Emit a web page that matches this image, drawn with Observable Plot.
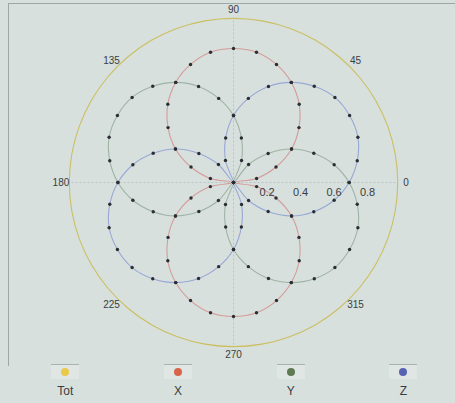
<!DOCTYPE html>
<html>
<head>
<meta charset="utf-8">
<script src="https://cdn.jsdelivr.net/npm/d3@7"></script>
<script src="https://cdn.jsdelivr.net/npm/@observablehq/plot@0.6"></script>
<style>
  html, body { margin: 0; padding: 0; background: #d7e0dd; }
  body { width: 455px; height: 403px; overflow: hidden; font-family: "Liberation Sans", Arial, sans-serif; }
  #chart svg { display: block; }
  #legend { display: grid; grid-template-columns: repeat(4, 112.7px); padding-left: 9px; height: 37px; }
  .item { position: relative; text-align: center; }
  .sw { position: absolute; left: 50%; top: -2px; width: 28px; height: 14px; margin-left: -14px;
        border-top: 1px solid #aab2b2; background: #dfe6e4; }
  .dot { position: absolute; left: 50%; top: 2px; width: 8px; height: 8px; margin-left: -4px; border-radius: 50%; }
  .lab { position: absolute; left: 0; right: 0; top: 18px; font-size: 12px; color: #3a3d40; }
</style>
</head>
<body>
<div id="chart"></div>
<div id="legend"></div>
<script>
// ---- data ----
const angles = [0,10,20,30,40,50,60,70,80,90,100,110,120,130,140,150,160,170,
                180,190,200,210,220,230,240,250,260,270,280,290,300,310,320,330,340,350];
const totValues = [0.98,0.98,0.98,0.98,0.98,0.98,0.98,0.98,0.98,0.98,0.98,0.98,
                   0.98,0.98,0.98,0.98,0.98,0.98,0.98,0.98,0.98,0.98,0.98,0.98,
                   0.98,0.98,0.98,0.98,0.98,0.98,0.98,0.98,0.98,0.98,0.98,0.98];
const xValues = [0,0.14,0.27,0.40,0.51,0.61,0.69,0.75,0.79,0.80,0.79,0.75,0.69,0.61,0.51,0.40,0.27,0.14,
                 0,0.14,0.27,0.40,0.51,0.61,0.69,0.75,0.79,0.80,0.79,0.75,0.69,0.61,0.51,0.40,0.27,0.14];
const yValues = [0.69,0.61,0.51,0.40,0.27,0.14,0,0.14,0.27,0.40,0.51,0.61,0.69,0.75,0.79,0.80,0.79,0.75,
                 0.69,0.61,0.51,0.40,0.27,0.14,0,0.14,0.27,0.40,0.51,0.61,0.69,0.75,0.79,0.80,0.79,0.75];
const zValues = [0.69,0.75,0.79,0.80,0.79,0.75,0.69,0.61,0.51,0.40,0.27,0.14,0,0.14,0.27,0.40,0.51,0.61,
                 0.69,0.75,0.79,0.80,0.79,0.75,0.69,0.61,0.51,0.40,0.27,0.14,0,0.14,0.27,0.40,0.51,0.61];
const seriesNames = ["Tot", "X", "Y", "Z"];
const angleTicks = [0, 45, 90, 135, 180, 225, 270, 315];
const radialTicks = [0.2, 0.4, 0.6, 0.8];

// ---- styles ----
const lineColors = ["#cbbf62", "#d49c9a", "#9fb3a6", "#98a8d6"];
const legendColors = ["#e9c94a", "#d8654a", "#5f7a52", "#5663b3"];

const seriesValues = [totValues, xValues, yValues, zValues];
const rad = d => d * Math.PI / 180;
const rows = [];
seriesNames.forEach((s, k) => {
  angles.forEach((a, i) => {
    const r = seriesValues[k][i];
    rows.push({s, a, r, px: r * Math.cos(rad(a)), py: r * Math.sin(rad(a))});
  });
});
const spokes = angleTicks.filter(a => a % 90 === 0).map(a => ({
  x2: totValues[0] * Math.cos(rad(a)), y2: totValues[0] * Math.sin(rad(a))
}));
const labR = 1.03;

const svg = Plot.plot({
  width: 455, height: 366,
  marginLeft: 8, marginTop: 3, marginRight: 0, marginBottom: 0,
  x: {domain: [-1.343, 1.325], axis: null},
  y: {domain: [-1.0985, 1.0687], axis: null},
  color: {domain: seriesNames, range: lineColors},
  style: {background: "transparent", fontFamily: "Liberation Sans, Arial, sans-serif"},
  marks: [
    Plot.frame({stroke: "#9ea6a6"}),
    Plot.link(spokes, {x1: 0, y1: 0, x2: "x2", y2: "y2", stroke: "#b3bcbb", strokeWidth: 0.8, strokeDasharray: "2,2"}),
    Plot.line(rows, {x: "px", y: "py", z: "s", stroke: "s", curve: "catmull-rom-closed", strokeWidth: 1.1}),
    Plot.dot(rows.filter(d => d.s !== "Tot"), {x: "px", y: "py", r: 1.7, fill: "#2a2e33", stroke: "none"}),
    Plot.text(angleTicks, {
      x: a => labR * Math.cos(rad(a)), y: a => labR * Math.sin(rad(a)),
      text: a => String(a), fontSize: 10, fill: "#3a3d40", textAnchor: "middle"
    }),
    Plot.text(radialTicks, {
      x: r => r, y: 0, dy: 10, text: r => r.toFixed(1), fontSize: 11, fill: "#3a3d40", textAnchor: "middle"
    })
  ]
});
document.getElementById("chart").appendChild(svg);

const legend = document.getElementById("legend");
seriesNames.forEach((s, i) => {
  const it = document.createElement("div");
  it.className = "item";
  it.innerHTML = `<div class="sw"></div><div class="dot" style="background:${legendColors[i]}"></div><div class="lab">${s}</div>`;
  legend.appendChild(it);
});
</script>
</body>
</html>
